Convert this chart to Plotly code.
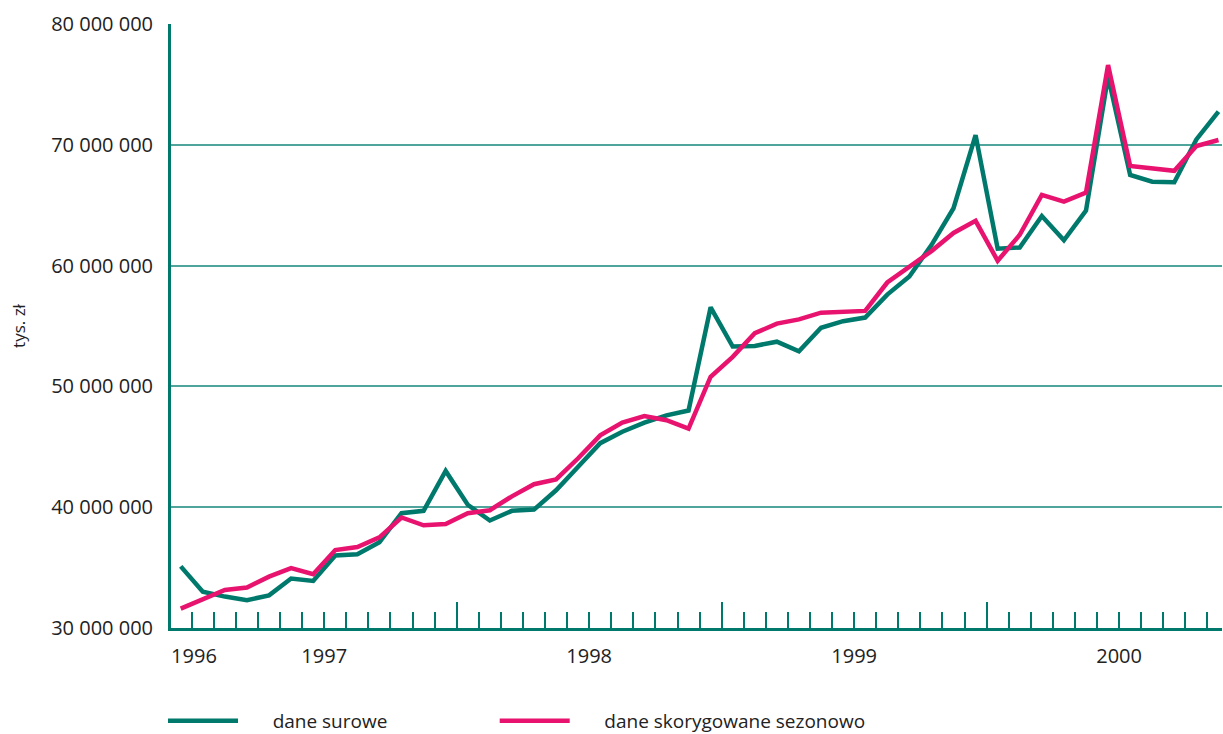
import plotly.graph_objects as go

# Monthly observations, Dec 1996 .. Nov 2000 (index positions along the axis)
month_index = list(range(48))

# values in millions (axis shows full numbers, unit: tys. zł)
dane_surowe_mln = [
    35.1, 33.0, 32.6, 32.3, 32.7, 34.1, 33.9, 36.0, 36.1, 37.1, 39.5, 39.7,
    43.0, 40.2, 38.9, 39.7, 39.8, 41.4, 43.35, 45.3, 46.25, 47.0, 47.6, 48.0,
    56.55, 53.3, 53.35, 53.7, 52.9, 54.85, 55.4, 55.7, 57.6, 59.1, 61.7, 64.75,
    70.8, 61.4, 61.5, 64.1, 62.1, 64.55, 75.65, 67.5, 66.95, 66.9, 70.45, 72.75,
]
dane_skorygowane_mln = [
    31.6, 32.4, 33.15, 33.35, 34.25, 34.95, 34.45, 36.45, 36.7, 37.5, 39.15, 38.5,
    38.6, 39.5, 39.75, 40.9, 41.9, 42.3, 44.05, 45.95, 47.0, 47.55, 47.2, 46.5,
    50.8, 52.45, 54.4, 55.2, 55.55, 56.1, 56.2, 56.25, 58.6, 59.9, 61.2, 62.7,
    63.7, 60.4, 62.55, 65.85, 65.3, 66.05, 76.6, 68.25, 68.05, 67.85, 69.9, 70.4,
]

series_names = ["dane surowe", "dane skorygowane sezonowo"]
series_colors = ["#00796d", "#e8126f"]
series_legends = ["legend", "legend2"]

y_tick_values = [30e6, 40e6, 50e6, 60e6, 70e6, 80e6]
y_tick_labels = ["30 000 000", "40 000 000", "50 000 000", "60 000 000", "70 000 000", "80 000 000"]

year_labels = ["1996", "1997", "1998", "1999", "2000"]
year_label_pos = [0.6, 6.5, 18.5, 30.5, 42.5]
month_boundaries = [i + 0.5 for i in range(47)]
year_boundaries = [12.5, 24.5, 36.5]

y_title = "tys. zł"

AXIS = "#00796d"
GRID = "#4fa59c"
TXT = "#222222"
FONT = "Open Sans"
PAD = "\u00a0" * 6  # gap between legend line sample and its label

fig = go.Figure()
for name, vals, col, lg in zip(series_names, [dane_surowe_mln, dane_skorygowane_mln],
                               series_colors, series_legends):
    fig.add_trace(go.Scatter(
        x=month_index, y=[v * 1e6 for v in vals], name=PAD + name, mode="lines",
        line=dict(color=col, width=4.5), legend=lg,
    ))

legend_common = dict(
    orientation="h", xanchor="left", y=-0.154, yanchor="middle",
    itemwidth=70, font=dict(size=19, color=TXT), bgcolor="rgba(0,0,0,0)",
)

xr = [-0.44, 47.16]
fig.update_layout(
    width=1223, height=734,
    margin=dict(l=171, r=1, t=24, b=106, autoexpand=False),
    paper_bgcolor="white", plot_bgcolor="white",
    font=dict(family=FONT, size=19, color=TXT),
    showlegend=True,
    legend=dict(x=-0.0076, **legend_common),
    legend2=dict(x=0.308, **legend_common),
    xaxis=dict(
        range=xr, showgrid=False, zeroline=False, automargin=False,
        showline=True, linecolor=AXIS, linewidth=3,
        tickmode="array", tickvals=year_boundaries, ticks="inside",
        ticklen=26, tickwidth=1.5, tickcolor=AXIS, showticklabels=False,
        minor=dict(tickmode="array", tickvals=month_boundaries, ticks="inside",
                   ticklen=16, tickwidth=1.5, tickcolor=AXIS, showgrid=False),
    ),
    xaxis2=dict(
        range=xr, overlaying="x", side="bottom", showgrid=False, zeroline=False,
        automargin=False, showline=False, tickmode="array", tickvals=year_label_pos,
        ticktext=year_labels, ticks="", ticklabelstandoff=14,
        tickfont=dict(size=20, color=TXT),
    ),
    yaxis=dict(
        range=[30e6, 80e6], tickmode="array", tickvals=y_tick_values, ticktext=y_tick_labels,
        showgrid=True, gridcolor=GRID, gridwidth=1.5, zeroline=False, automargin=False,
        showline=True, linecolor=AXIS, linewidth=3, ticks="",
        ticklabelstandoff=11, tickfont=dict(size=20, color=TXT),
        title=dict(text=y_title, font=dict(size=17, color=TXT), standoff=22),
    ),
)
fig.add_trace(go.Scatter(x=[None], y=[None], xaxis="x2", showlegend=False, hoverinfo="skip"))

fig.write_html("out.html", post_script="document.body.style.margin='0px';",
               config={"displayModeBar": False})
